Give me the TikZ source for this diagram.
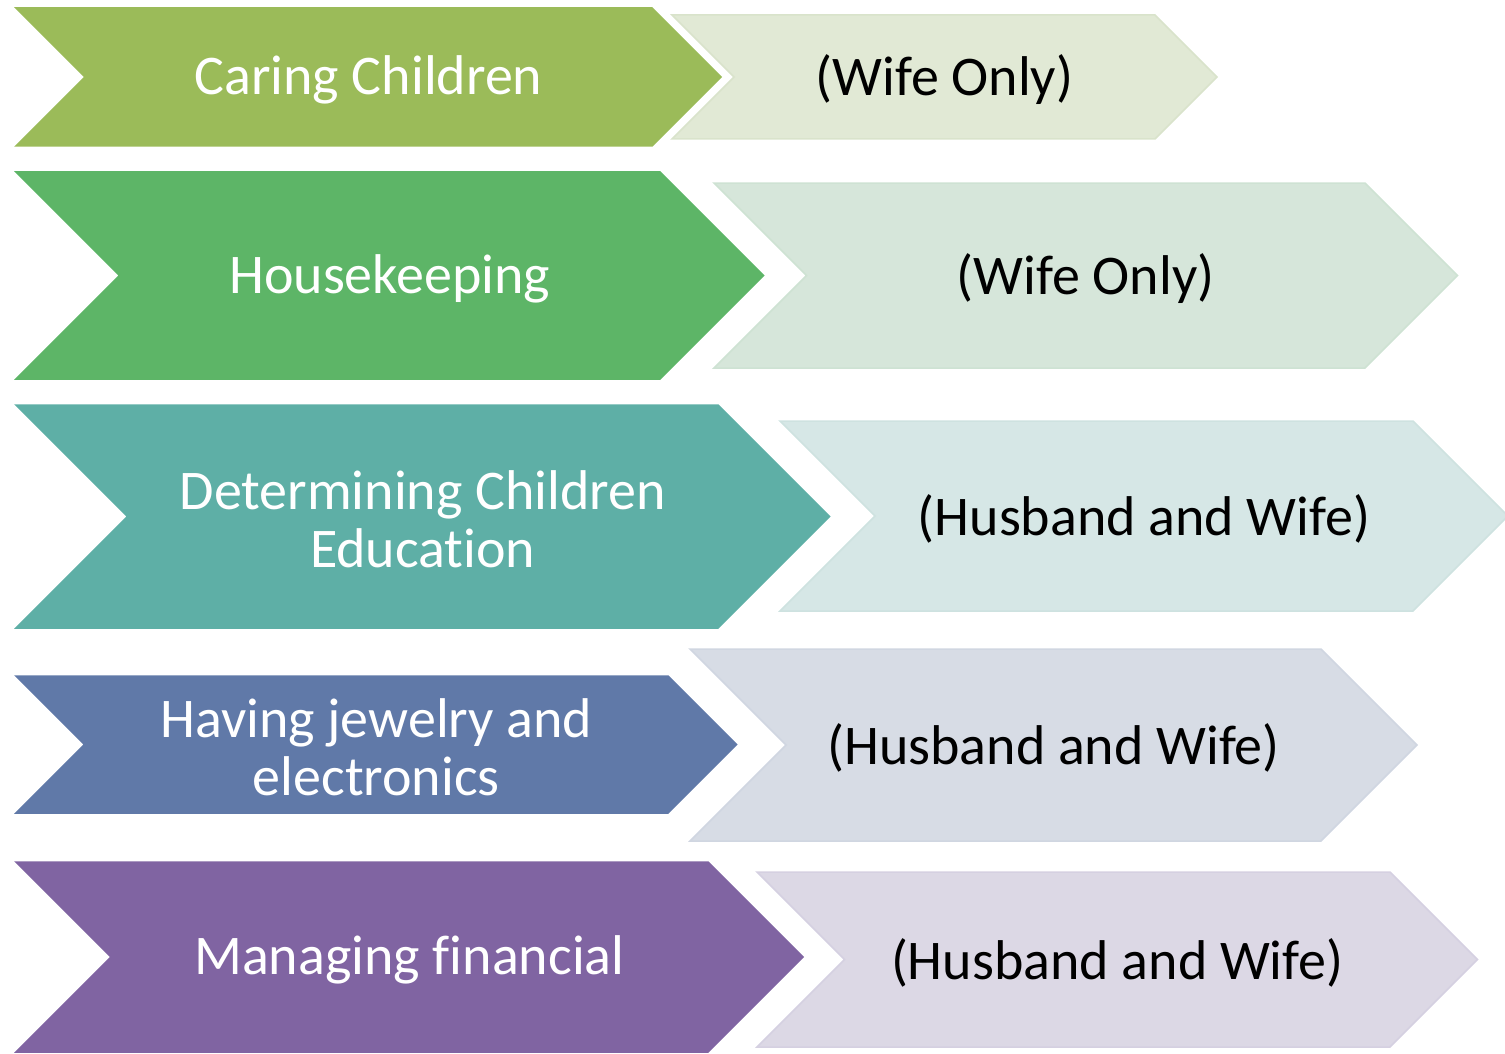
\documentclass[tikz,border=0pt]{standalone}
\usepackage{fontspec}
\setmainfont[Ligatures=NoCommon]{Carlito}
\definecolor{aD}{HTML}{9BBB59}\definecolor{aL}{HTML}{E1E9D5}\definecolor{aE}{HTML}{D9E3CB}
\definecolor{bD}{HTML}{5DB567}\definecolor{bL}{HTML}{D6E6DA}\definecolor{bE}{HTML}{CEE2D3}
\definecolor{cD}{HTML}{5EAFA6}\definecolor{cL}{HTML}{D6E7E6}\definecolor{cE}{HTML}{CEE2E0}
\definecolor{dD}{HTML}{6079A8}\definecolor{dL}{HTML}{D7DCE5}\definecolor{dE}{HTML}{D0D6E1}
\definecolor{eD}{HTML}{8064A2}\definecolor{eL}{HTML}{DCD8E5}\definecolor{eE}{HTML}{D5D0E1}
% #1 left, #2 top, #3 bottom, #4 body right, #5 fill, #6 outline
\newcommand\chevshape[6]{%
  \pgfmathsetmacro\chh{(#3-#2)/2}%
  \pgfmathsetmacro\chm{(#2+#3)/2}%
  \draw[chev, fill=#5, draw=#6] (#1,#2) -- (#4,#2) -- ({#4+\chh},\chm) -- (#4,#3) -- (#1,#3) -- ({#1+\chh},\chm) -- cycle;%
}
\begin{document}
\begin{tikzpicture}[x=1pt,y=-1pt,
  chev/.style={line width=1.5pt, line join=miter},
  lab/.style={font=\fontsize{56}{58}\selectfont, align=center, inner sep=0pt, anchor=center, yshift=-3pt},
  darklab/.style={lab, text=white},
  lightlab/.style={lab, text=black}]
\useasboundingbox (0,0) rectangle (1505,1054);
% row 1
\chevshape{16}{8}{146}{652}{aD}{aD}
\chevshape{672}{15}{139}{1155}{aL}{aE}
\node[darklab] (t1) at ({(85+652)/2},77) {Caring Children};
\node[lightlab] (u1) at ({(734+1155)/2},77) {(Wife Only)};
% row 2
\chevshape{16}{172}{379}{660}{bD}{bD}
\chevshape{714}{183}{368}{1365}{bL}{bE}
\node[darklab] (t2) at ({(119.5+660)/2},275.5) {Housekeeping};
\node[lightlab] (u2) at ({(806.5+1365)/2},275.5) {(Wife Only)};
% row 3
\chevshape{16}{405}{628}{718}{cD}{cD}
\chevshape{780}{421}{611}{1413}{cL}{cE}
\node[darklab] (t3) at ({(127.5+718)/2},516.5) {Determining Children\\Education};
\node[lightlab] (u3) at ({(875+1413)/2},516) {(Husband and Wife)};
% row 4
\chevshape{16}{676}{813}{668}{dD}{dD}
\chevshape{690}{649}{841}{1321}{dL}{dE}
\node[darklab] (t4) at ({(84.5+668)/2},744.5) {Having jewelry and\\electronics};
\node[lightlab] (u4) at ({(786+1321)/2},745) {(Husband and Wife)};
% row 5
\chevshape{16}{862}{1052}{708}{eD}{eD}
\chevshape{757}{872}{1047}{1390}{eL}{eE}
\node[darklab] (t5) at ({(111+708)/2},957) {Managing financial};
\node[lightlab] (u5) at ({(844.5+1390)/2},959.5) {(Husband and Wife)};
\end{tikzpicture}
\end{document}
